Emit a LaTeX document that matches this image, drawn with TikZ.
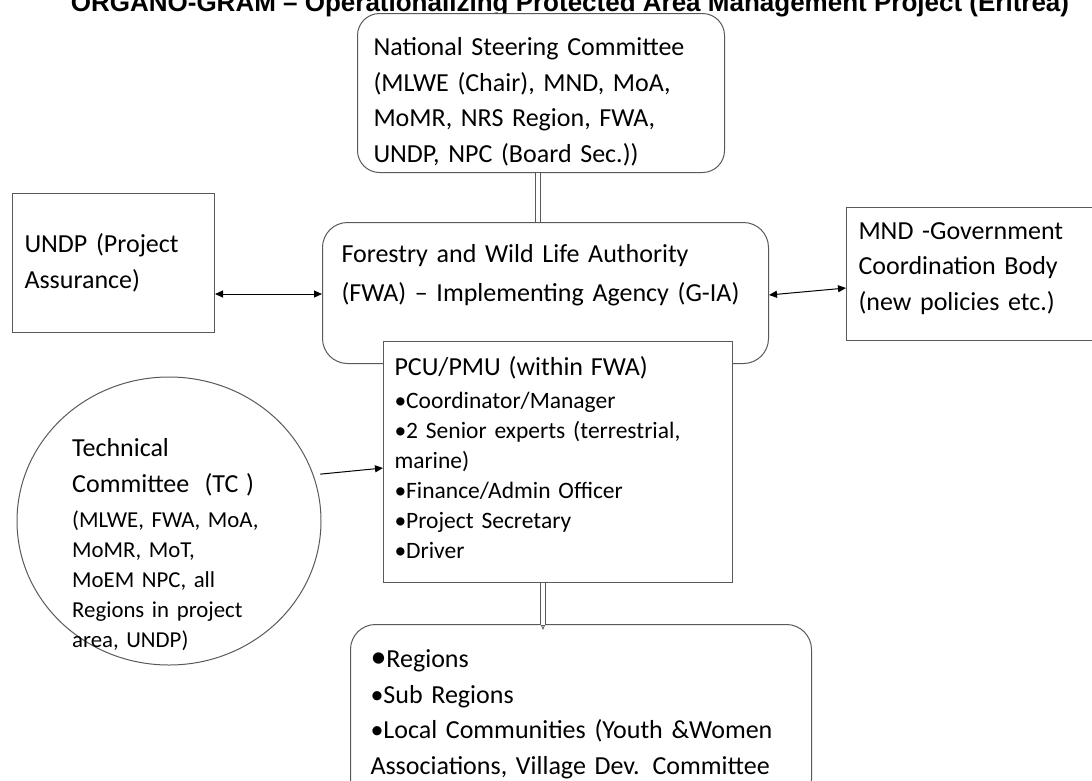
\documentclass[tikz,border=0pt]{standalone}
\usepackage{fontspec}
\setmainfont{Carlito}
\newfontfamily\titlefont{Liberation Sans}
\usetikzlibrary{arrows.meta,positioning,shapes.geometric}
\tikzset{
  >={Triangle[length=8pt,width=7pt]},
  rbox/.style={draw=black!65, line width=1pt, rounded corners=22pt, fill=white, align=left, anchor=north west, font=\fontsize{26}{35.5}\selectfont},
  sbox/.style={draw=black!65, line width=1pt, fill=white, align=left, anchor=north west, font=\fontsize{26}{35.5}\selectfont},
  link/.style={<->, line width=1pt},
  dbl/.style={draw=black!65, double, double distance=4pt, line width=0.8pt},
}

\begin{document}
\begin{tikzpicture}[x=1pt, y=-1pt,
  small/.style={font=\fontsize{23.5}{30}\selectfont}]
  \useasboundingbox (0,0) rectangle (1092,780);
  \clip (0,0) rectangle (1092,780);
  \node[font=\titlefont\bfseries\fontsize{26}{30}\selectfont, anchor=base] (title) at (570,11)
    {ORGANO-GRAM – Operationalizing Protected Area Management Project (Eritrea)};
  % top of the chart
  \node[rbox, minimum width=367pt, minimum height=159pt, inner xsep=16pt, text width=335pt] (nsc) at (357,13)
    {\rule{0pt}{36pt}National\ Steering Committee\\(MLWE (Chair), MND, MoA,\\MoMR, NRS Region, FWA,\\UNDP, NPC (Board Sec.))};
  \node[rbox, rounded corners=25pt, minimum width=446pt, minimum height=141pt, inner xsep=19pt, text width=408pt,
        font=\fontsize{26}{39}\selectfont] (fwa) at (322,222)
    {\rule{0pt}{28pt}Forestry and\ Wild Life Authority\\(FWA) – Implementing Agency (G-IA)\\\strut};
  \node[sbox, minimum width=202pt, minimum height=139pt, inner xsep=12pt, text width=178pt] (undp) at (12,193)
    {UNDP (Project\\Assurance)};
  \node[sbox, minimum width=260pt, minimum height=133pt, inner xsep=12pt, text width=236pt] (mnd) at (846,207)
    {MND -Government\\Coordination\ Body\\(new policies etc.)\rule[-15pt]{0pt}{1pt}};
  \node[sbox, small, minimum width=349pt, minimum height=241pt, inner xsep=11pt, text width=327pt] (pcu) at (383,341)
    {{\fontsize{26}{35.5}\selectfont PCU/PMU (within\ FWA)\par}\vspace{3pt}
     •Coordinator/Manager\\•2 Senior experts (terrestrial,\\marine)\\•Finance/Admin Officer\\•Project Secretary\\•Driver\rule[-9pt]{0pt}{1pt}};
  % technical committee
  \node[draw=black!65, line width=1pt, ellipse, minimum width=304pt, minimum height=288pt, inner sep=0pt] (tc) at (169,521) {};
  \node[align=left, anchor=north west, inner sep=0pt, text width=200pt, font=\fontsize{22.8}{30}\selectfont] (tc-txt) at (72,438)
    {{\fontsize{26}{36}\selectfont Technical\\Committee\ \ (TC )\par}\vspace{5pt}
     (MLWE, FWA, MoA,\\MoMR, MoT,\\MoEM NPC, all\\Regions in project\\area, UNDP)};
  \node[rbox, rounded corners=25pt, minimum width=461pt, minimum height=180pt, inner xsep=20pt, text width=421pt] (reg) at (350,624)
    {{\fontsize{32}{35.5}\selectfont•}Regions\\•Sub Regions\\•Local Communities (Youth \&Women\\Associations,\ Village\ Dev. Committee};
  % connectors
  \draw[dbl] ([xshift=-3pt]nsc.south) -- ([xshift=-3pt]nsc.south |- fwa.north);
  \draw[link] ([yshift=-31pt]undp.east) -- ([yshift=-31pt]undp.east -| fwa.west);
  \draw[link] ([yshift=-2pt]fwa.east) -- ([yshift=-14pt]mnd.west);
  \draw[->, line width=1pt] ([xshift=7pt]tc.18) -- ([yshift=-6pt]pcu.west);
  \draw[dbl, -{Triangle[open,length=5pt,width=4pt]}, shorten >=-6pt] ([xshift=-15pt]pcu.south) -- ([xshift=-15pt]pcu.south |- reg.north);
\end{tikzpicture}
\end{document}
